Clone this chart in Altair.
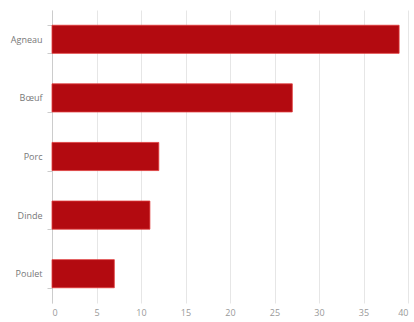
import altair as alt
import pandas as pd

categories = ["Agneau", "Bœuf", "Porc", "Dinde", "Poulet"]
values = [39, 27, 12, 11, 7]

df = pd.DataFrame({"cat": categories, "val": values})

chart = alt.Chart(df).mark_bar(
    color="#b30a10", stroke="#e03a3a", strokeWidth=0.8
).encode(
    x=alt.X("val:Q", scale=alt.Scale(domain=[0, 40], nice=False),
            axis=alt.Axis(values=[0, 5, 10, 15, 20, 25, 30, 35, 40], title=None,
                          domain=False, ticks=False, grid=True, gridColor="#e6e6e6",
                          labelColor="#999999", labelFontSize=9, labelPadding=5,
                          labelFont="Open Sans")),
    y=alt.Y("cat:N", sort=categories, scale=alt.Scale(paddingInner=0.52, paddingOuter=0.26),
            axis=alt.Axis(title=None, domain=True, domainColor="#cccccc", ticks=True,
                          tickColor="#cccccc", tickSize=5, tickBand="extent", grid=False,
                          labelColor="#777777", labelFontSize=9, labelPadding=5,
                          labelFont="Open Sans"))
).properties(
    width=356, height=293,
    autosize=alt.AutoSizeParams(type="none"),
    padding={"left": 52, "top": 10, "right": 6, "bottom": 19}
).configure_view(stroke=None)

chart.save("out.html", embed_options={"renderer": "svg", "actions": False})
